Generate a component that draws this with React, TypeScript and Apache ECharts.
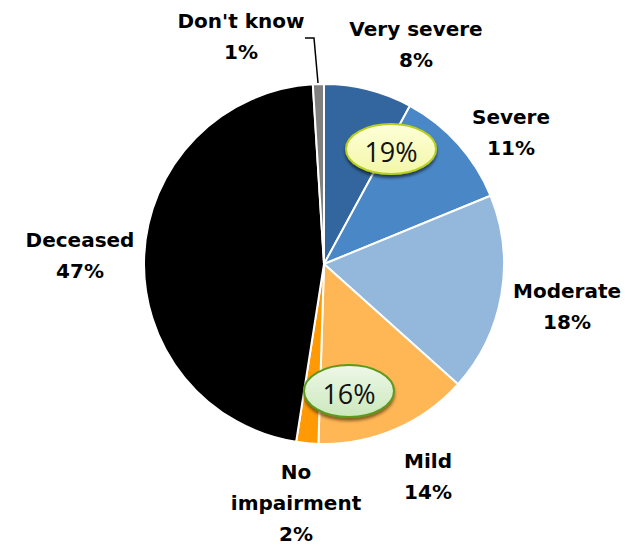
import React, { useEffect, useRef } from "react";
import * as echarts from "echarts";

const categories = ["Very severe", "Severe", "Moderate", "Mild", "No impairment", "Deceased", "Don't know"];
const values = [8, 11, 18, 14, 2, 47, 1];
const colors = ["#33669E", "#4A87C7", "#94B7DC", "#FFB655", "#FF9A05", "#000000", "#808080"];
const labelText = ["Very severe", "Severe", "Moderate", "Mild", "No\nimpairment", "Deceased", "Don't know"];
// label block centers (layout)
const labelPos: [number, number][] = [
  [416, 44], [511, 132], [567, 306], [428, 476], [296, 503], [80, 255], [241, 36],
];
// grouped totals shown in callout ellipses
const groupTotals = [8 + 11, 14 + 2];

export default function App() {
  const ref = useRef<HTMLDivElement>(null);
  useEffect(() => {
    if (!ref.current) return;
    const chart = echarts.init(ref.current, null, { renderer: "svg" });
    const font = "'DejaVu Sans', sans-serif";
    chart.setOption({
      animation: false,
      backgroundColor: "#ffffff",
      series: [
        {
          type: "pie",
          center: [324, 264],
          radius: [0, 180],
          startAngle: 90,
          clockwise: true,
          data: categories.map((c, i) => ({
            name: c,
            value: values[i],
            itemStyle: { color: colors[i] },
          })),
          itemStyle: { borderColor: "#ffffff", borderWidth: 2 },
          label: {
            show: true,
            position: "outside",
            alignTo: "none",
            overflow: "none",
            formatter: (p: any) => `${labelText[p.dataIndex]}\n${values[p.dataIndex]}%`,
            fontFamily: font,
            fontWeight: "bold",
            fontSize: 20,
            lineHeight: 31,
            color: "#000000",
            align: "center",
          },
          labelLine: { show: false },
          labelLayout: (p: any) => ({
            x: labelPos[p.dataIndex][0],
            y: labelPos[p.dataIndex][1],
            align: "center",
            verticalAlign: "middle",
          }),
          emphasis: { disabled: true },
        },
      ],
      graphic: [
        {
          type: "polyline",
          shape: { points: [[305, 38], [314, 38], [318, 83]] },
          style: { stroke: "#000000", lineWidth: 1.5, fill: null },
          z: 10,
        },
        {
          type: "ellipse",
          shape: { cx: 391, cy: 149, rx: 45, ry: 25 },
          style: {
            fill: new echarts.graphic.LinearGradient(0, 0, 0, 1, [
              { offset: 0, color: "#FFFFD8" },
              { offset: 1, color: "#F2F7A8" },
            ]),
            stroke: "#B8CF1C",
            lineWidth: 2,
            shadowBlur: 3,
            shadowOffsetY: 3,
            shadowColor: "rgba(0,0,0,0.55)",
          },
          z: 20,
        },
        {
          type: "text",
          style: {
            x: 391,
            y: 151,
            text: `${groupTotals[0]}%`,
            font: "27px 'Open Sans', sans-serif",
            fill: "#111111",
            align: "center",
            verticalAlign: "middle",
          },
          z: 21,
        },
        {
          type: "ellipse",
          shape: { cx: 349, cy: 391, rx: 45, ry: 26 },
          style: {
            fill: new echarts.graphic.LinearGradient(0, 0, 0, 1, [
              { offset: 0, color: "#EEF8E8" },
              { offset: 1, color: "#CBE8BC" },
            ]),
            stroke: "#5C9A1E",
            lineWidth: 2,
            shadowBlur: 3,
            shadowOffsetY: 3,
            shadowColor: "rgba(60,40,0,0.6)",
          },
          z: 20,
        },
        {
          type: "text",
          style: {
            x: 349,
            y: 393,
            text: `${groupTotals[1]}%`,
            font: "27px 'Open Sans', sans-serif",
            fill: "#111111",
            align: "center",
            verticalAlign: "middle",
          },
          z: 21,
        },
      ],
    });
    return () => chart.dispose();
  }, []);
  return (
    <div
      ref={ref}
      style={{ position: "fixed", left: 0, top: 0, width: 626, height: 545, background: "#fff" }}
    />
  );
}
